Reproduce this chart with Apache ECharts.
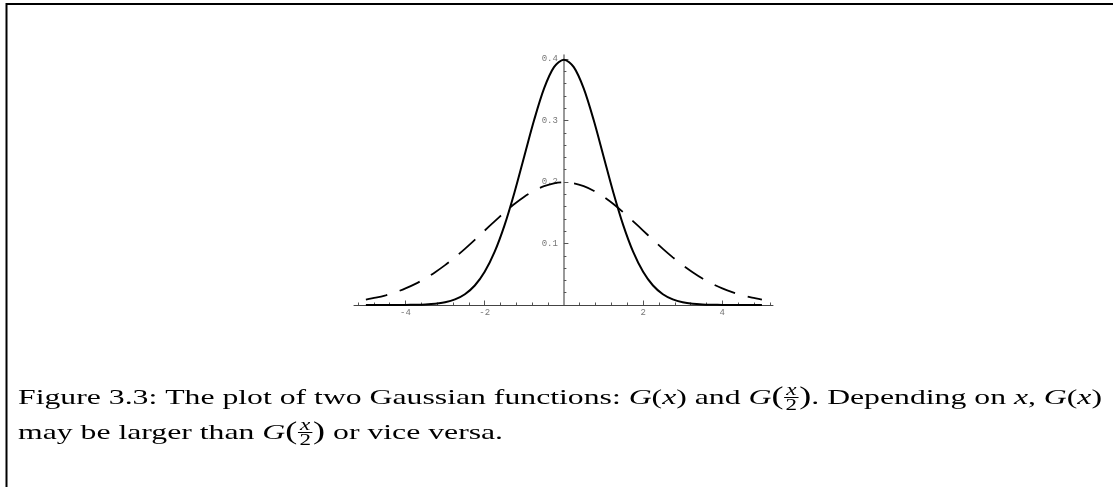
<!DOCTYPE html>
<html>
<head>
<meta charset="utf-8">
<script src="https://cdn.jsdelivr.net/npm/echarts@6/dist/echarts.min.js"></script>
<style>
  html, body { margin: 0; padding: 0; background: #fff; }
  #chart { width: 1113px; height: 487px; }
</style>
</head>
<body>
<div id="chart"></div>
<script>
// Sample abscissae, step 0.25 from -5 to 5
const xs = [
  -5, -4.75, -4.5, -4.25, -4, -3.75, -3.5, -3.25, -3, -2.75, -2.5, -2.25, -2, -1.75, -1.5, -1.25, -1, -0.75, -0.5, -0.25,
  0, 0.25, 0.5, 0.75, 1, 1.25, 1.5, 1.75, 2, 2.25, 2.5, 2.75, 3, 3.25, 3.5, 3.75, 4, 4.25, 4.5, 4.75, 5
];
// G(x): narrow bell, peak ~0.4
const gNarrow = [
  0.0000, 0.0000, 0.0000, 0.0000, 0.0001, 0.0004, 0.0009, 0.0020, 0.0044, 0.0091, 0.0175, 0.0317, 0.0540, 0.0863, 0.1295, 0.1826, 0.2420, 0.3011, 0.3521, 0.3867,
  0.3989, 0.3867, 0.3521, 0.3011, 0.2420, 0.1826, 0.1295, 0.0863, 0.0540, 0.0317, 0.0175, 0.0091, 0.0044, 0.0020, 0.0009, 0.0004, 0.0001, 0.0000, 0.0000, 0.0000, 0.0000
];
// G(x/2): wide bell, peak ~0.2
const gWide = [
  0.0088, 0.0119, 0.0158, 0.0208, 0.0270, 0.0344, 0.0431, 0.0534, 0.0648, 0.0775, 0.0913, 0.1059, 0.1210, 0.1360, 0.1506, 0.1641, 0.1760, 0.1859, 0.1933, 0.1979,
  0.1995, 0.1979, 0.1933, 0.1859, 0.1760, 0.1641, 0.1506, 0.1360, 0.1210, 0.1059, 0.0913, 0.0775, 0.0648, 0.0534, 0.0431, 0.0344, 0.0270, 0.0208, 0.0158, 0.0119, 0.0088
];

// Axis ticks and labels
const xMajorTicks = [-4, -2, 2, 4];
const xMinorTicks = [-5.2, -4.8, -4.4, -3.6, -3.2, -2.8, -2.4, -1.6, -1.2, -0.8, -0.4, 0.4, 0.8, 1.2, 1.6, 2.4, 2.8, 3.2, 3.6, 4.4, 4.8, 5.2];
const xTickLabels = [-4, -2, 2, 4];
const yMajorTicks = [0.1, 0.2, 0.3, 0.4];
const yMinorTicks = [0.02, 0.04, 0.06, 0.08, 0.12, 0.14, 0.16, 0.18, 0.22, 0.24, 0.26, 0.28, 0.32, 0.34, 0.36, 0.38];
const yTickLabels = [0.1, 0.2, 0.3, 0.4];

// Caption text, split into plain, italic, enlarged-paren and fraction pieces
const captionLines = [
  [
    { t: 'Figure 3.3: The plot of two Gaussian functions: ' }, { t: 'G', i: true }, { t: '(' }, { t: 'x', i: true }, { t: ') and ' },
    { t: 'G', i: true }, { t: '(', big: true }, { f: ['x', '2'] }, { t: ')', big: true }, { t: '. Depending on ' }, { t: 'x', i: true }, { t: ', ' },
    { t: 'G', i: true }, { t: '(' }, { t: 'x', i: true }, { t: ')' }
  ],
  [
    { t: 'may be larger than ' }, { t: 'G', i: true }, { t: '(', big: true }, { f: ['x', '2'] }, { t: ')', big: true }, { t: ' or vice versa.' }
  ]
];

const X_MIN = -5.3, X_MAX = 5.28, Y_MAX = 0.4065;
const GRID = { left: 354, right: 340, top: 55, bottom: 182 };
const CHART_W = 1113;
const SERIF = '"Liberation Serif", "DejaVu Serif", serif';
const CAP_SIZE = 22;
const BIG_SIZE = 25;
const FRAC_SIZE = 16;

const measureCtx = document.createElement('canvas').getContext('2d');
function textWidth(str, italic, size) {
  measureCtx.font = (italic ? 'italic ' : '') + size + 'px ' + SERIF;
  return measureCtx.measureText(str).width;
}

function pieceWidth(p) {
  if (p.f) {
    return Math.max(textWidth(p.f[0], true, FRAC_SIZE), textWidth(p.f[1], false, FRAC_SIZE)) + 3;
  }
  return textWidth(p.t, p.i, p.big ? BIG_SIZE : CAP_SIZE);
}

function lineWidth(pieces) {
  return pieces.reduce((s, p) => s + pieceWidth(p), 0);
}

// Builds one caption line as a group of text elements sitting on a common baseline
function buildLine(pieces, left, baseline, scaleX) {
  const children = [];
  let cx = 0;
  const midOffset = 0.3;
  pieces.forEach(p => {
    const w = pieceWidth(p);
    if (p.f) {
      const barY = baseline - 7.5;
      children.push({
        type: 'text', x: cx + w / 2, y: barY - 7,
        style: { text: p.f[0], font: 'italic ' + FRAC_SIZE + 'px ' + SERIF, fill: '#000', align: 'center', verticalAlign: 'middle' }
      });
      children.push({
        type: 'line', shape: { x1: cx + 0.5, y1: barY, x2: cx + w - 0.5, y2: barY },
        style: { stroke: '#000', lineWidth: 1 }
      });
      children.push({
        type: 'text', x: cx + w / 2, y: barY + 8.5,
        style: { text: p.f[1], font: FRAC_SIZE + 'px ' + SERIF, fill: '#000', align: 'center', verticalAlign: 'middle' }
      });
    } else if (p.big) {
      children.push({
        type: 'text', x: cx, y: baseline - 7.5,
        style: { text: p.t, font: BIG_SIZE + 'px ' + SERIF, fill: '#000', align: 'left', verticalAlign: 'middle' }
      });
    } else {
      children.push({
        type: 'text', x: cx, y: baseline - CAP_SIZE * midOffset,
        style: { text: p.t, font: (p.i ? 'italic ' : '') + CAP_SIZE + 'px ' + SERIF, fill: '#000', align: 'left', verticalAlign: 'middle' }
      });
    }
    cx += w;
  });
  return { type: 'group', x: left, y: 0, scaleX: scaleX, children: children };
}

const capLeft = 18;
const capRight = 1102;
const capScale = (capRight - capLeft) / lineWidth(captionLines[0]);

// The vertical axis crosses the horizontal one at x = 0
const plotW = CHART_W - GRID.left - GRID.right;
const yAxisShift = -plotW * (0 - X_MIN) / (X_MAX - X_MIN);

const chart = echarts.init(document.getElementById('chart'), null, { renderer: 'canvas' });

const tickLabelStyle = {
  fontFamily: '"Liberation Mono", "DejaVu Sans Mono", monospace',
  fontSize: 9,
  color: '#777'
};

chart.setOption({
  backgroundColor: '#fff',
  animation: false,
  grid: { left: GRID.left, right: GRID.right, top: GRID.top, bottom: GRID.bottom, containLabel: false },
  xAxis: [
    {
      type: 'value', min: X_MIN, max: X_MAX, position: 'bottom',
      axisLine: { show: true, onZero: false, lineStyle: { color: '#444', width: 1 } },
      axisTick: { show: true, inside: true, length: 4.5, customValues: xMajorTicks, lineStyle: { color: '#555', width: 1 } },
      axisLabel: { show: true, customValues: xTickLabels, margin: 3, ...tickLabelStyle, formatter: v => String(v) },
      splitLine: { show: false }
    },
    {
      type: 'value', min: X_MIN, max: X_MAX, position: 'bottom',
      axisLine: { show: false, onZero: false },
      axisTick: { show: true, inside: true, length: 2.5, customValues: xMinorTicks, lineStyle: { color: '#555', width: 1 } },
      axisLabel: { show: false },
      splitLine: { show: false }
    }
  ],
  yAxis: [
    {
      type: 'value', min: 0, max: Y_MAX, position: 'left', offset: yAxisShift,
      axisLine: { show: true, onZero: false, lineStyle: { color: '#777', width: 1.5 } },
      axisTick: { show: true, inside: true, length: 4.5, customValues: yMajorTicks, lineStyle: { color: '#555', width: 1 } },
      axisLabel: { show: true, customValues: yTickLabels, margin: 6, ...tickLabelStyle, formatter: v => v.toFixed(1) },
      splitLine: { show: false }
    },
    {
      type: 'value', min: 0, max: Y_MAX, position: 'left', offset: yAxisShift,
      axisLine: { show: false, onZero: false },
      axisTick: { show: true, inside: true, length: 2.5, customValues: yMinorTicks, lineStyle: { color: '#555', width: 1 } },
      axisLabel: { show: false },
      splitLine: { show: false }
    }
  ],
  series: [
    {
      name: 'G(x)', type: 'line', xAxisIndex: 0, yAxisIndex: 0,
      data: xs.map((x, k) => [x, gNarrow[k]]),
      showSymbol: false, smooth: 0.3,
      lineStyle: { color: '#000', width: 2, type: 'solid' }
    },
    {
      name: 'G(x/2)', type: 'line', xAxisIndex: 0, yAxisIndex: 0,
      data: xs.map((x, k) => [x, gWide[k]]),
      showSymbol: false, smooth: 0.3,
      lineStyle: { color: '#000', width: 1.8, type: [22, 13] }
    }
  ],
  graphic: [
    {
      type: 'polyline', silent: true,
      shape: { points: [[6.5, 487], [6.5, 4], [1113, 4]] },
      style: { stroke: '#000', lineWidth: 2, fill: null }
    },
    buildLine(captionLines[0], capLeft, 405, capScale),
    buildLine(captionLines[1], capLeft, 440, capScale)
  ]
});
</script>
</body>
</html>
